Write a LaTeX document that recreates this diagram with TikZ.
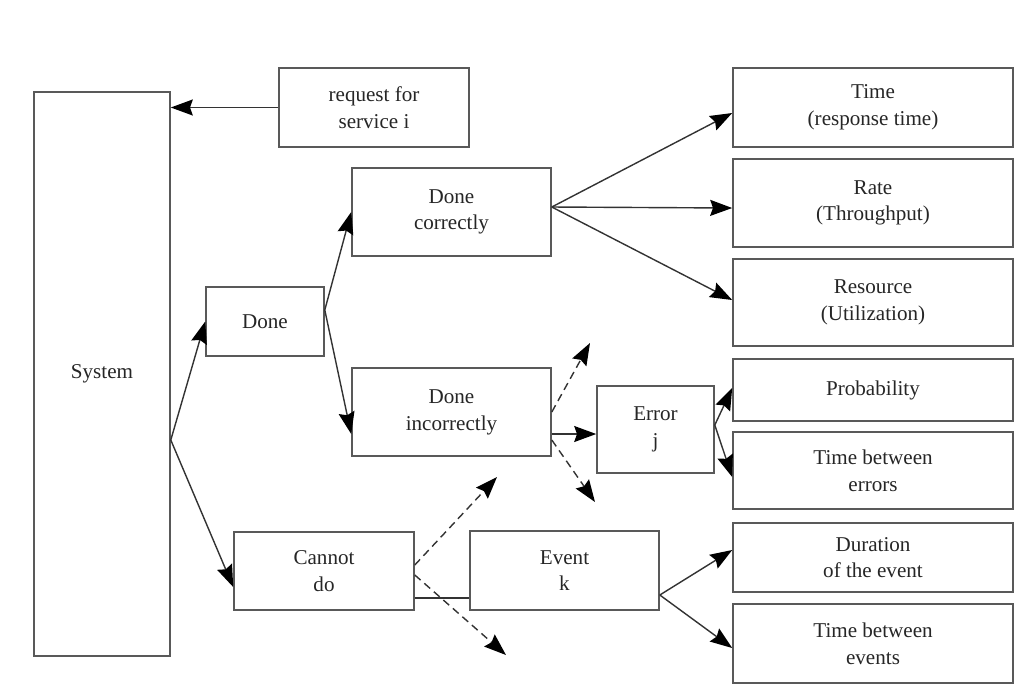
\documentclass[tikz,border=0pt]{standalone}
\usepackage{fontspec}
\setmainfont{Liberation Serif}
\usetikzlibrary{arrows.meta,calc}
\begin{document}
\begin{tikzpicture}[x=0.025cm,y=-0.025cm,
  box/.style={draw=black!65, line width=1.1pt, align=center, inner sep=0pt, text=black!85, font=\fontsize{15}{19}\selectfont},
  arr/.style={draw=black!80, line width=1pt, -{Stealth[length=5.5mm,width=4mm,inset=0.7mm,black]}},
  dsh/.style={arr, dash pattern=on 5.5pt off 3.5pt}]
\useasboundingbox (0,0) rectangle (1032,687);
\node[box, minimum width=3.4cm, minimum height=14.1cm] (sys) at (102,374){System};
\node[box, minimum width=4.75cm, minimum height=1.975cm] (req) at (374,107.5){request for\\service i};
\node[box, minimum width=2.95cm, minimum height=1.725cm] (done) at (265,321.5){Done};
\node[box, minimum width=4.975cm, minimum height=2.2cm] (dc) at (451.5,212){Done\\correctly};
\node[box, minimum width=4.975cm, minimum height=2.2cm] (di) at (451.5,412){Done\\incorrectly};
\node[box, minimum width=2.925cm, minimum height=2.175cm] (err) at (655.5,429.5){Error\\j};
\node[box, minimum width=4.5cm, minimum height=1.95cm] (cdo) at (324,571){Cannot\\do};
\node[box, minimum width=4.725cm, minimum height=1.975cm] (ev) at (564.5,570.5){Event\\k};
\node[box, minimum width=7cm, minimum height=1.975cm] (time) at (873,107.5){Time\\(response time)};
\node[box, minimum width=7cm, minimum height=2.2cm] (rate) at (873,203){Rate\\(Throughput)};
\node[box, minimum width=7cm, minimum height=2.175cm] (res) at (873,302.5){Resource\\(Utilization)};
\node[box, minimum width=7cm, minimum height=1.55cm] (prob) at (873,390){Probability};
\node[box, minimum width=7cm, minimum height=1.925cm] (tbe) at (873,470.5){Time between\\errors};
\node[box, minimum width=7cm, minimum height=1.725cm] (dur) at (873,557.5){Duration\\of the event};
\node[box, minimum width=7cm, minimum height=1.975cm] (tbv) at (873,643.5){Time between\\events};
\coordinate (diup) at (590,343);
\coordinate (didn) at (595,502);
\coordinate (cdup) at (497,477);
\coordinate (cddn) at (506,655);
\draw[arr] (req.west) -- (sys.east |- req.west);
\draw[arr] ($(sys.east)+(0,66)$) -- (done.west);
\draw[arr] ($(sys.east)+(0,66)$) -- ($(cdo.west)+(0,16)$);
\draw[arr] ($(done.east)+(0,-11.5)$) -- (dc.west);
\draw[arr] ($(done.east)+(0,-11.5)$) -- ($(di.west)+(0,22)$);
\draw[arr] ($(dc.east)+(0,-5)$) -- ($(time.west)+(0,5.5)$);
\draw[arr] ($(dc.east)+(0,-5)$) -- ($(rate.west)+(0,5)$);
\draw[arr] ($(dc.east)+(0,-5)$) -- ($(res.west)+(0,-2.5)$);
\draw[dsh] (di.east) -- (diup);
\draw[arr] ($(di.east)+(0,22)$) -- (err.west |- {$(di.east)+(0,22)$});
\draw[dsh] ($(di.east)+(0,28)$) -- (didn);
\draw[arr] ($(err.east)+(0,-4.5)$) -- ($(prob.west)+(0,-2)$);
\draw[arr] ($(err.east)+(0,-4.5)$) -- ($(tbe.west)+(0,6.5)$);
\draw[dsh] ($(cdo.east)+(0,-6)$) -- (cdup);
\draw[dsh] ($(cdo.east)+(0,4)$) -- (cddn);
\draw[draw=black!80, line width=1pt] ($(cdo.east)+(0,27)$) -- (ev.west |- {$(cdo.east)+(0,27)$});
\draw[arr] ($(ev.east)+(0,24.5)$) -- ($(dur.west)+(0,-7.5)$);
\draw[arr] ($(ev.east)+(0,24.5)$) -- ($(tbv.west)+(0,4.5)$);
\end{tikzpicture}
\end{document}
